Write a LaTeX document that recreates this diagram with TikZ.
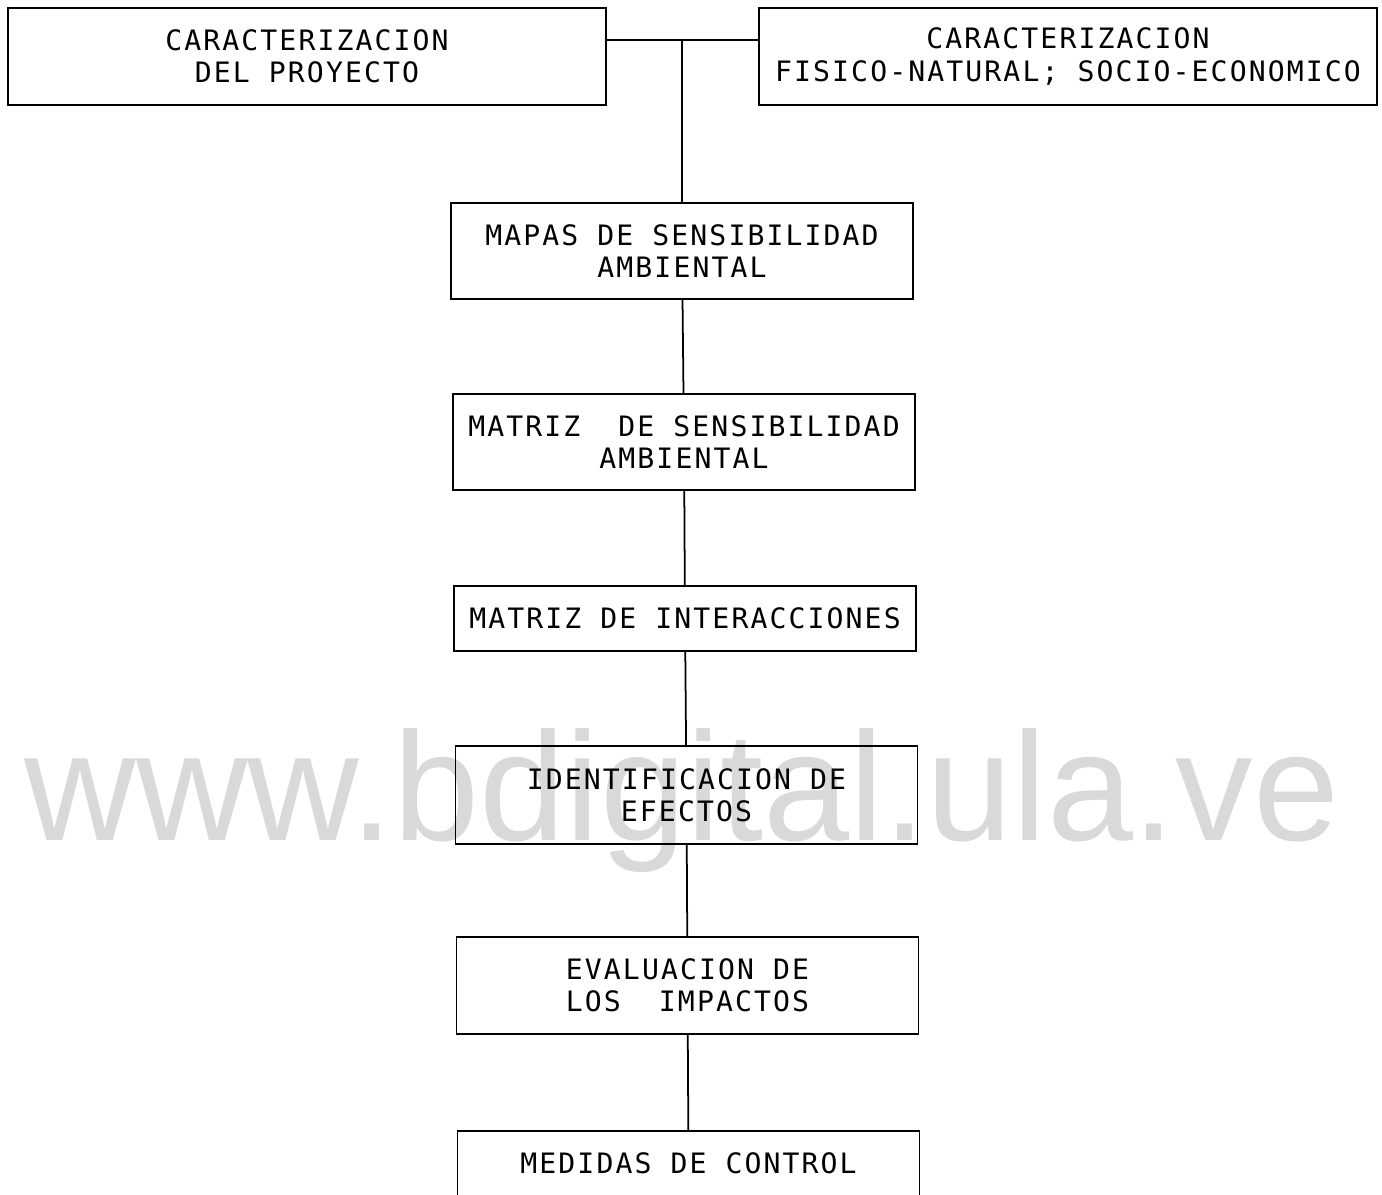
\documentclass[tikz,border=0pt]{standalone}
\usepackage{fontspec}
\setmainfont[LetterSpace=7.5]{DejaVu Sans Mono}
\newfontfamily\markfont{Liberation Sans}
\usetikzlibrary{positioning}
\tikzset{
  stagebox/.style={draw, line width=1pt, minimum width=9.24cm, minimum height=1.92cm, align=center, inner sep=0pt},
  headbox/.style={stagebox, minimum height=1.94cm},
  linkline/.style={line width=1pt},
  watermark/.style={text=black!15, font=\markfont\fontsize{88}{90}\selectfont, anchor=base, inner sep=0pt}
}

\begin{document}
\begin{tikzpicture}[x=0.02cm, y=-0.02cm, every node/.style={font=\fontsize{16}{18.4}\selectfont}]
      \useasboundingbox (0,0) rectangle (1382,1194);
      \clip (0,0) rectangle (1382,1194);
      \node[watermark] (mark) at (682,840) {www.bdigital.ula.ve};
      \node[headbox, minimum width=11.96cm] (proj) at (307,56.5) {CARACTERIZACION\\DEL PROYECTO};
      \node[headbox, minimum width=12.36cm] (medio) at (1068,56.5) {CARACTERIZACION\\FISICO-NATURAL; SOCIO-ECONOMICO};
      \coordinate (join) at (682,40);
      \node[stagebox] (mapas) at (682,251) {MAPAS DE SENSIBILIDAD\\AMBIENTAL};
      \node[stagebox] (msens) at (684,442) {MATRIZ~ DE SENSIBILIDAD\\AMBIENTAL};
      \node[stagebox, minimum height=1.3cm] (minter) at (685,618.5) {MATRIZ DE INTERACCIONES};
      \node[stagebox, minimum height=1.96cm] (ident) at (686.5,795) {IDENTIFICACION DE\\EFECTOS};
      \node[stagebox, minimum height=1.94cm] (evalua) at (687.5,985.5) {EVALUACION DE\\LOS~ IMPACTOS};
      \node[stagebox, minimum height=1.3cm] (control) at (688.5,1163.5) {MEDIDAS DE CONTROL};
      \draw[linkline] (proj.east |- join) -- (join) -- (medio.west |- join);
      \draw[linkline] (join) -- (mapas.north);
      \draw[linkline] (mapas) -- (msens);
      \draw[linkline] (msens) -- (minter);
      \draw[linkline] (minter) -- (ident);
      \draw[linkline] (ident) -- (evalua);
      \draw[linkline] (evalua) -- (control);
    \end{tikzpicture}
\end{document}
